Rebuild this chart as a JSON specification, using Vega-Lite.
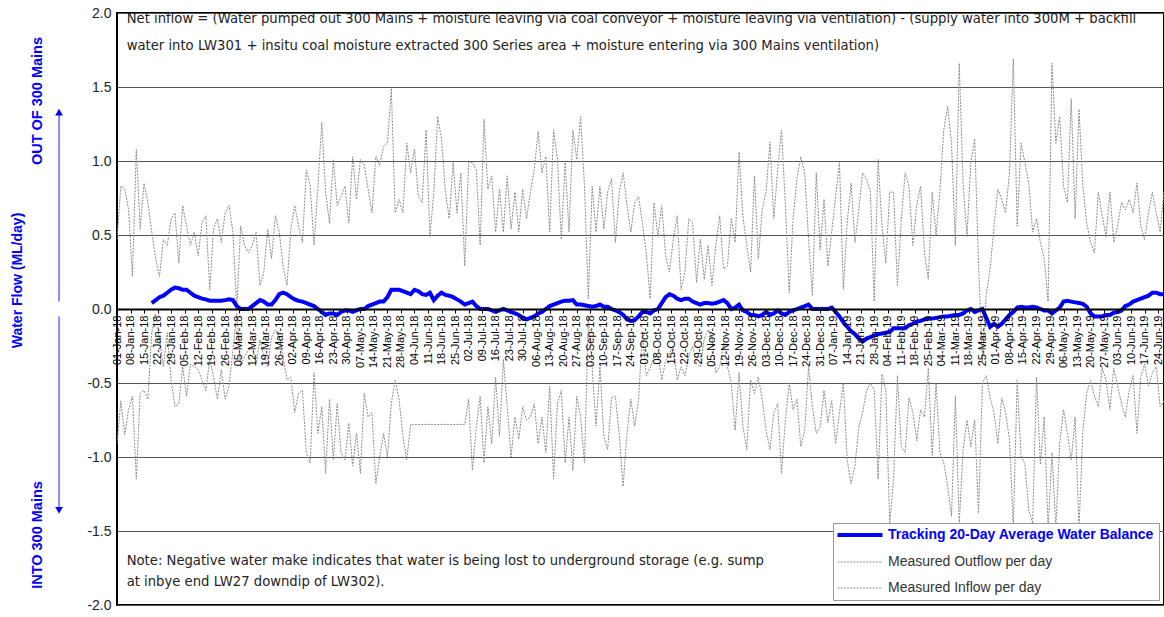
{
"$schema":"https://vega.github.io/schema/vega-lite/v6.json",
"width":1047,"height":592,
"autosize":{"type":"none"},
"padding":{"left":117,"top":13,"right":0,"bottom":12},
"background":"white",
"config":{"view":{"stroke":"black","strokeWidth":2},"font":"Liberation Sans"},
"datasets":{
"flow":[
{"d":"2018-01-01","o":0.47,"i":-0.91},
{"d":"2018-01-03","o":0.83,"i":-0.62},
{"d":"2018-01-05","o":0.81,"i":-0.85},
{"d":"2018-01-07","o":0.67,"i":-0.68},
{"d":"2018-01-09","o":0.22,"i":-0.59},
{"d":"2018-01-11","o":1.08,"i":-1.15},
{"d":"2018-01-13","o":0.54,"i":-0.57},
{"d":"2018-01-15","o":0.85,"i":-0.55},
{"d":"2018-01-17","o":0.72,"i":-0.61},
{"d":"2018-01-19","o":0.52,"i":-0.16,"b":0.04},
{"d":"2018-01-21","o":0.34,"i":-0.03,"b":0.06},
{"d":"2018-01-23","o":0.22,"i":-0.20,"b":0.08},
{"d":"2018-01-25","o":0.47,"i":-0.39,"b":0.09},
{"d":"2018-01-27","o":0.43,"i":-0.16,"b":0.11},
{"d":"2018-01-29","o":0.61,"i":-0.48,"b":0.13},
{"d":"2018-01-31","o":0.65,"i":-0.66,"b":0.145},
{"d":"2018-02-02","o":0.31,"i":-0.64,"b":0.14},
{"d":"2018-02-04","o":0.70,"i":-0.39,"b":0.13},
{"d":"2018-02-06","o":0.56,"i":-0.59,"b":0.13},
{"d":"2018-02-08","o":0.43,"i":-0.37,"b":0.11},
{"d":"2018-02-10","o":0.52,"i":-0.39,"b":0.09},
{"d":"2018-02-12","o":0.36,"i":-0.41,"b":0.08},
{"d":"2018-02-14","o":0.58,"i":-0.48,"b":0.07},
{"d":"2018-02-16","o":0.63,"i":-0.55,"b":0.065},
{"d":"2018-02-18","o":0.13,"i":-0.34,"b":0.056},
{"d":"2018-02-20","o":0.54,"i":-0.46,"b":0.056},
{"d":"2018-02-22","o":0.61,"i":-0.61,"b":0.056},
{"d":"2018-02-24","o":0.45,"i":-0.41,"b":0.056},
{"d":"2018-02-26","o":0.65,"i":-0.61,"b":0.06},
{"d":"2018-02-28","o":0.70,"i":-0.52,"b":0.065},
{"d":"2018-03-02","o":0.52,"i":-0.28,"b":0.06},
{"d":"2018-03-04","o":0.0,"i":-0.03,"b":0.02},
{"d":"2018-03-06","o":0.56,"i":-0.39,"b":0.0},
{"d":"2018-03-08","o":0.43,"i":-0.32,"b":0.0},
{"d":"2018-03-10","o":0.38,"i":-0.28,"b":0.0},
{"d":"2018-03-12","o":0.43,"i":-0.25,"b":0.02},
{"d":"2018-03-14","o":0.52,"i":-0.37,"b":0.04},
{"d":"2018-03-16","o":0.16,"i":-0.21,"b":0.06},
{"d":"2018-03-18","o":0.25,"i":-0.32,"b":0.05},
{"d":"2018-03-20","o":0.54,"i":-0.39,"b":0.03},
{"d":"2018-03-22","o":0.34,"i":-0.19,"b":0.03},
{"d":"2018-03-24","o":0.63,"i":-0.14,"b":0.06},
{"d":"2018-03-26","o":0.52,"i":-0.19,"b":0.10},
{"d":"2018-03-28","o":0.29,"i":-0.32,"b":0.11},
{"d":"2018-03-30","o":0.16,"i":-0.48,"b":0.10},
{"d":"2018-04-01","o":0.54,"i":-0.46,"b":0.08},
{"d":"2018-04-03","o":0.70,"i":-0.70,"b":0.065},
{"d":"2018-04-05","o":0.56,"i":-0.57,"b":0.055},
{"d":"2018-04-07","o":0.45,"i":-0.55,"b":0.05},
{"d":"2018-04-09","o":0.94,"i":-0.97,"b":0.04},
{"d":"2018-04-11","o":0.83,"i":-1.04,"b":0.03},
{"d":"2018-04-13","o":0.43,"i":-0.43,"b":0.02},
{"d":"2018-04-15","o":0.83,"i":-0.84,"b":0.0},
{"d":"2018-04-17","o":1.26,"i":-0.66,"b":-0.02},
{"d":"2018-04-19","o":0.79,"i":-1.11,"b":-0.04},
{"d":"2018-04-21","o":0.58,"i":-0.61,"b":-0.03},
{"d":"2018-04-23","o":1.01,"i":-1.02,"b":-0.03},
{"d":"2018-04-25","o":0.70,"i":-0.64,"b":-0.04},
{"d":"2018-04-27","o":0.76,"i":-0.97,"b":-0.02},
{"d":"2018-04-29","o":0.83,"i":-1.02,"b":-0.01},
{"d":"2018-05-01","o":0.58,"i":-0.77,"b":-0.01},
{"d":"2018-05-03","o":1.03,"i":-1.06,"b":-0.02},
{"d":"2018-05-05","o":0.74,"i":-0.84,"b":-0.01},
{"d":"2018-05-07","o":1.01,"i":-1.11,"b":0.0},
{"d":"2018-05-09","o":0.97,"i":-0.57,"b":0.0},
{"d":"2018-05-11","o":0.81,"i":-0.73,"b":0.02},
{"d":"2018-05-13","o":0.65,"i":-0.70,"b":0.03},
{"d":"2018-05-15","o":1.03,"i":-1.18,"b":0.04},
{"d":"2018-05-17","o":0.97,"i":-1.00,"b":0.05},
{"d":"2018-05-19","o":1.10,"i":-0.84,"b":0.05},
{"d":"2018-05-21","o":1.12,"i":-1.00,"b":0.08},
{"d":"2018-05-23","o":1.49,"i":-0.64,"b":0.13},
{"d":"2018-05-25","o":0.65,"i":-0.48,"b":0.13},
{"d":"2018-05-27","o":0.74,"i":-0.61,"b":0.13},
{"d":"2018-05-29","o":0.65,"i":-0.86,"b":0.12},
{"d":"2018-05-31","o":1.12,"i":-1.02,"b":0.11},
{"d":"2018-06-02","o":0.92,"i":-0.78,"b":0.10},
{"d":"2018-06-04","o":1.08,"b":0.13},
{"d":"2018-06-06","o":0.76,"b":0.12},
{"d":"2018-06-08","o":0.72,"b":0.10},
{"d":"2018-06-10","o":1.21,"b":0.095},
{"d":"2018-06-12","o":0.49,"b":0.11},
{"d":"2018-06-14","o":0.79,"b":0.06},
{"d":"2018-06-16","o":1.30,"b":0.09},
{"d":"2018-06-18","o":1.15,"b":0.11},
{"d":"2018-06-20","o":0.79,"b":0.095},
{"d":"2018-06-22","o":0.61,"b":0.09},
{"d":"2018-06-24","o":0.99,"b":0.08},
{"d":"2018-06-26","o":0.65,"b":0.065},
{"d":"2018-06-28","o":0.92,"b":0.05},
{"d":"2018-06-30","o":0.29,"i":-0.78,"b":0.03},
{"d":"2018-07-02","o":0.99,"i":-0.61,"b":0.04},
{"d":"2018-07-04","o":0.99,"i":-1.09,"b":0.05},
{"d":"2018-07-06","o":0.94,"i":-0.80,"b":0.02},
{"d":"2018-07-08","o":0.43,"i":-0.59,"b":0.0},
{"d":"2018-07-10","o":1.28,"i":-1.04,"b":0.0},
{"d":"2018-07-12","o":0.81,"i":-0.66,"b":0.0},
{"d":"2018-07-14","o":0.90,"i":-0.91,"b":-0.01},
{"d":"2018-07-16","o":0.52,"i":-0.46,"b":-0.02},
{"d":"2018-07-18","o":0.81,"i":-0.86,"b":-0.01},
{"d":"2018-07-20","o":0.52,"i":-0.34,"b":0.0},
{"d":"2018-07-22","o":0.90,"i":-0.66,"b":-0.01},
{"d":"2018-07-24","o":0.54,"i":-1.00,"b":-0.02},
{"d":"2018-07-26","o":0.79,"i":-0.73,"b":-0.03},
{"d":"2018-07-28","o":0.52,"i":-0.88,"b":-0.04},
{"d":"2018-07-30","o":0.81,"i":-0.66,"b":-0.06},
{"d":"2018-08-01","o":0.61,"i":-0.75,"b":-0.07},
{"d":"2018-08-03","o":0.79,"i":-0.73,"b":-0.06},
{"d":"2018-08-05","o":0.94,"i":-0.64,"b":-0.05},
{"d":"2018-08-07","o":1.20,"i":-0.91,"b":-0.03},
{"d":"2018-08-09","o":0.92,"i":-0.73,"b":-0.02},
{"d":"2018-08-11","o":1.03,"i":-0.97,"b":0.0},
{"d":"2018-08-13","o":0.52,"i":-0.52,"b":0.02},
{"d":"2018-08-15","o":1.21,"i":-1.15,"b":0.03},
{"d":"2018-08-17","o":1.01,"i":-0.64,"b":0.04},
{"d":"2018-08-19","o":0.47,"i":-0.55,"b":0.05},
{"d":"2018-08-21","o":0.99,"i":-1.04,"b":0.055},
{"d":"2018-08-23","o":0.52,"i":-0.73,"b":0.056},
{"d":"2018-08-25","o":1.21,"i":-1.09,"b":0.06},
{"d":"2018-08-27","o":1.01,"i":-0.59,"b":0.03},
{"d":"2018-08-29","o":1.30,"i":-0.73,"b":0.03},
{"d":"2018-08-31","o":0.83,"i":-1.04,"b":0.025},
{"d":"2018-09-02","o":0.07,"i":-0.05,"b":0.02},
{"d":"2018-09-04","o":0.83,"i":-0.40,"b":0.015},
{"d":"2018-09-06","o":0.52,"i":-0.79,"b":0.02},
{"d":"2018-09-08","o":0.83,"i":-0.39,"b":0.03},
{"d":"2018-09-10","o":0.54,"i":-0.86,"b":0.015},
{"d":"2018-09-12","o":0.79,"i":-0.95,"b":0.015},
{"d":"2018-09-14","o":0.88,"i":-0.60,"b":0.0},
{"d":"2018-09-16","o":0.45,"i":-0.59,"b":-0.01},
{"d":"2018-09-18","o":0.79,"i":-0.85,"b":-0.02},
{"d":"2018-09-20","o":0.92,"i":-1.20,"b":-0.04},
{"d":"2018-09-22","o":0.70,"i":-0.84,"b":-0.07},
{"d":"2018-09-24","o":0.52,"i":-0.61,"b":-0.08},
{"d":"2018-09-26","o":0.72,"i":-0.79,"b":-0.075},
{"d":"2018-09-28","o":0.76,"i":-0.61,"b":-0.05},
{"d":"2018-09-30","o":0.58,"i":-0.16,"b":-0.02},
{"d":"2018-10-02","o":0.38,"i":-0.45,"b":-0.02},
{"d":"2018-10-04","o":0.07,"i":-0.40,"b":-0.03},
{"d":"2018-10-06","o":0.72,"i":-0.32,"b":-0.01},
{"d":"2018-10-08","o":0.49,"i":-0.30,"b":0.0},
{"d":"2018-10-10","o":0.70,"i":-0.48,"b":0.04},
{"d":"2018-10-12","o":0.36,"i":-0.35,"b":0.08},
{"d":"2018-10-14","o":0.25,"i":-0.30,"b":0.10},
{"d":"2018-10-16","o":0.47,"i":-0.25,"b":0.09},
{"d":"2018-10-18","o":0.63,"i":-0.48,"b":0.07},
{"d":"2018-10-20","o":0.13,"i":-0.39,"b":0.06},
{"d":"2018-10-22","o":0.25,"i":-0.45,"b":0.07},
{"d":"2018-10-24","o":0.61,"i":-0.32,"b":0.07},
{"d":"2018-10-26","o":0.58,"i":-0.25,"b":0.05},
{"d":"2018-10-28","o":0.18,"i":-0.37,"b":0.04},
{"d":"2018-10-30","o":0.47,"i":-0.39,"b":0.03},
{"d":"2018-11-01","o":0.20,"i":-0.20,"b":0.04},
{"d":"2018-11-03","o":0.43,"i":-0.14,"b":0.04},
{"d":"2018-11-05","o":0.16,"i":-0.19,"b":0.035},
{"d":"2018-11-07","o":0.43,"i":-0.43,"b":0.04},
{"d":"2018-11-09","o":0.63,"i":-0.39,"b":0.05},
{"d":"2018-11-11","o":0.27,"i":-0.23,"b":0.06},
{"d":"2018-11-13","o":0.29,"i":-0.39,"b":0.04},
{"d":"2018-11-15","o":0.61,"i":-0.50,"b":0.0},
{"d":"2018-11-17","o":0.45,"i":-0.82,"b":0.01},
{"d":"2018-11-19","o":1.06,"i":-0.43,"b":0.03},
{"d":"2018-11-21","o":0.63,"i":-0.79,"b":-0.01},
{"d":"2018-11-23","o":0.43,"i":-0.95,"b":-0.02},
{"d":"2018-11-25","o":0.25,"i":-0.48,"b":-0.04},
{"d":"2018-11-27","o":0.90,"i":-0.57,"b":-0.04},
{"d":"2018-11-29","o":0.34,"i":-0.46,"b":-0.05},
{"d":"2018-12-01","o":0.67,"i":-0.61,"b":-0.04},
{"d":"2018-12-03","o":0.79,"i":-0.82,"b":-0.02},
{"d":"2018-12-05","o":1.13,"i":-0.95,"b":-0.04},
{"d":"2018-12-07","o":0.61,"i":-0.70,"b":-0.03},
{"d":"2018-12-09","o":0.94,"i":-0.64,"b":-0.01},
{"d":"2018-12-11","o":1.21,"i":-1.11,"b":-0.03},
{"d":"2018-12-13","o":0.70,"i":-0.75,"b":-0.04},
{"d":"2018-12-15","o":0.11,"i":-0.50,"b":-0.02},
{"d":"2018-12-17","o":0.61,"i":-0.68,"b":-0.01},
{"d":"2018-12-19","o":0.88,"i":-0.61,"b":0.0},
{"d":"2018-12-21","o":1.03,"i":-0.93,"b":0.01},
{"d":"2018-12-23","o":0.92,"i":-0.82,"b":0.02},
{"d":"2018-12-25","o":0.47,"i":-0.39,"b":0.03},
{"d":"2018-12-27","o":0.09,"i":-0.66,"b":0.0},
{"d":"2018-12-29","o":0.92,"i":-0.84,"b":0.0},
{"d":"2018-12-31","o":0.40,"i":-0.80,"b":0.0},
{"d":"2019-01-02","o":0.74,"i":-0.55,"b":0.0},
{"d":"2019-01-04","o":0.29,"i":-0.77,"b":0.0},
{"d":"2019-01-06","o":0.52,"i":-0.62,"b":0.01},
{"d":"2019-01-08","o":0.76,"i":-0.91,"b":-0.02},
{"d":"2019-01-10","o":0.99,"i":-0.70,"b":-0.05},
{"d":"2019-01-12","o":0.13,"i":-0.50,"b":-0.09},
{"d":"2019-01-14","o":0.58,"i":-1.02,"b":-0.12},
{"d":"2019-01-16","o":0.85,"i":-1.18,"b":-0.15},
{"d":"2019-01-18","o":0.45,"i":-1.06,"b":-0.17},
{"d":"2019-01-20","o":0.67,"i":-0.80,"b":-0.20},
{"d":"2019-01-22","o":0.92,"i":-0.70,"b":-0.22},
{"d":"2019-01-24","o":0.88,"i":-0.55,"b":-0.20},
{"d":"2019-01-26","o":0.79,"i":-0.50,"b":-0.19},
{"d":"2019-01-28","o":0.05,"i":-0.55,"b":-0.18},
{"d":"2019-01-30","o":1.01,"i":-1.15,"b":-0.17},
{"d":"2019-02-01","o":0.56,"i":-0.44,"b":-0.165},
{"d":"2019-02-03","o":0.31,"i":-0.55,"b":-0.16},
{"d":"2019-02-05","o":0.79,"i":-1.45,"b":-0.155},
{"d":"2019-02-07","o":0.79,"i":-1.15,"b":-0.13},
{"d":"2019-02-09","o":0.16,"i":-0.45,"b":-0.13},
{"d":"2019-02-11","o":0.60,"i":-0.93,"b":-0.13},
{"d":"2019-02-13","o":0.92,"i":-0.97,"b":-0.13},
{"d":"2019-02-15","o":0.83,"i":-0.60,"b":-0.11},
{"d":"2019-02-17","o":0.43,"i":-0.70,"b":-0.10},
{"d":"2019-02-19","o":0.70,"i":-0.89,"b":-0.085},
{"d":"2019-02-21","o":0.83,"i":-0.68,"b":-0.08},
{"d":"2019-02-23","o":0.38,"i":-0.73,"b":-0.07},
{"d":"2019-02-25","o":0.20,"i":-0.40,"b":-0.065},
{"d":"2019-02-27","o":0.79,"i":-0.99,"b":-0.065},
{"d":"2019-03-01","o":0.50,"i":-0.50,"b":-0.06},
{"d":"2019-03-03","o":0.79,"i":-0.97,"b":-0.055},
{"d":"2019-03-05","o":1.21,"i":-1.04,"b":-0.05},
{"d":"2019-03-07","o":1.37,"i":-1.20,"b":-0.05},
{"d":"2019-03-09","o":1.12,"i":-1.40,"b":-0.045},
{"d":"2019-03-11","o":0.43,"i":-0.59,"b":-0.04},
{"d":"2019-03-13","o":1.66,"i":-1.45,"b":-0.04},
{"d":"2019-03-15","o":0.85,"i":-0.95,"b":-0.03},
{"d":"2019-03-17","o":0.49,"i":-0.75,"b":-0.01},
{"d":"2019-03-19","o":0.99,"i":-0.93,"b":0.0},
{"d":"2019-03-21","o":1.15,"i":-0.75,"b":-0.02},
{"d":"2019-03-23","o":0.30,"i":-1.38,"b":-0.01},
{"d":"2019-03-25","o":-0.35,"i":-0.50,"b":0.0},
{"d":"2019-03-27","o":0.10,"i":-0.45,"b":-0.06},
{"d":"2019-03-29","o":0.27,"i":-0.60,"b":-0.12},
{"d":"2019-03-31","o":0.56,"i":-0.70,"b":-0.10},
{"d":"2019-04-02","o":0.81,"i":-0.91,"b":-0.12},
{"d":"2019-04-04","o":0.74,"i":-0.60,"b":-0.10},
{"d":"2019-04-06","o":0.65,"i":-0.70,"b":-0.07},
{"d":"2019-04-08","o":0.92,"i":-0.88,"b":-0.04},
{"d":"2019-04-10","o":1.69,"i":-1.48,"b":-0.02},
{"d":"2019-04-12","o":0.56,"i":-0.48,"b":0.01},
{"d":"2019-04-14","o":1.12,"i":-0.99,"b":0.015},
{"d":"2019-04-16","o":0.99,"i":-1.05,"b":0.01},
{"d":"2019-04-18","o":0.85,"i":-1.36,"b":0.01},
{"d":"2019-04-20","o":0.52,"i":-1.45,"b":0.015},
{"d":"2019-04-22","o":0.61,"i":-0.46,"b":0.01},
{"d":"2019-04-24","o":0.45,"i":-1.05,"b":0.0},
{"d":"2019-04-26","o":0.34,"i":-0.73,"b":-0.01},
{"d":"2019-04-28","o":0.05,"i":-1.48,"b":-0.01},
{"d":"2019-04-30","o":1.66,"i":-0.97,"b":-0.03},
{"d":"2019-05-02","o":1.12,"i":-1.48,"b":-0.01},
{"d":"2019-05-04","o":1.30,"i":-0.91,"b":0.01},
{"d":"2019-05-06","o":0.83,"i":-0.68,"b":0.05},
{"d":"2019-05-08","o":0.72,"i":-0.84,"b":0.055},
{"d":"2019-05-10","o":1.42,"i":-1.02,"b":0.05},
{"d":"2019-05-12","o":0.61,"i":-0.73,"b":0.045},
{"d":"2019-05-14","o":1.35,"i":-1.48,"b":0.04},
{"d":"2019-05-16","o":0.83,"i":-0.82,"b":0.035},
{"d":"2019-05-18","o":0.58,"i":-0.57,"b":0.015},
{"d":"2019-05-20","o":0.45,"i":-0.48,"b":-0.03},
{"d":"2019-05-22","o":0.38,"i":-0.59,"b":-0.05},
{"d":"2019-05-24","o":0.79,"i":-0.66,"b":-0.05},
{"d":"2019-05-26","o":0.63,"i":-0.40,"b":-0.05},
{"d":"2019-05-28","o":0.49,"i":-0.48,"b":-0.04},
{"d":"2019-05-30","o":0.79,"i":-0.68,"b":-0.04},
{"d":"2019-06-01","o":0.45,"i":-0.40,"b":-0.025},
{"d":"2019-06-03","o":0.56,"i":-0.52,"b":-0.02},
{"d":"2019-06-05","o":0.72,"i":-0.64,"b":-0.01},
{"d":"2019-06-07","o":0.67,"i":-0.73,"b":0.02},
{"d":"2019-06-09","o":0.74,"i":-0.55,"b":0.03},
{"d":"2019-06-11","o":0.65,"i":-0.45,"b":0.05},
{"d":"2019-06-13","o":0.85,"i":-0.84,"b":0.06},
{"d":"2019-06-15","o":0.56,"i":-0.46,"b":0.07},
{"d":"2019-06-17","o":0.47,"i":-0.37,"b":0.08},
{"d":"2019-06-19","o":0.65,"i":-0.52,"b":0.09},
{"d":"2019-06-21","o":0.79,"i":-0.43,"b":0.11},
{"d":"2019-06-23","o":0.65,"i":-0.39,"b":0.11},
{"d":"2019-06-25","o":0.52,"i":-0.66,"b":0.10},
{"d":"2019-06-27","o":0.79,"i":-0.62,"b":0.10},
{"d":"2019-06-29","o":0.65,"i":-0.70,"b":0.10}
],
"notes":[
{"d":"2018-01-06","v":1.96,"t":"Net inflow = (Water pumped out 300 Mains + moisture leaving via coal conveyor + moisture leaving via ventilation) - (supply water into 300M + backfill"},
{"d":"2018-01-06","v":1.78,"t":"water into LW301 + insitu coal moisture extracted 300 Series area + moisture entering via 300 Mains ventilation)"},
{"d":"2018-01-06","v":-1.70,"t":"Note: Negative water make indicates that water is being lost to underground storage (e.g. sump"},
{"d":"2018-01-06","v":-1.845,"t":"at inbye end LW27 downdip of LW302)."}
],
"side":[
{"d":"2017-11-21","v":1.405,"t":"OUT OF 300 Mains"},
{"d":"2017-11-21","v":-1.527,"t":"INTO 300 Mains"}
],
"arrows":[
{"d":"2017-12-02","v":0.05,"v2":1.32},
{"d":"2017-12-02","v":-0.05,"v2":-1.35}
],
"heads":[
{"d":"2017-12-02","v":1.33,"dir":"up"},
{"d":"2017-12-02","v":-1.36,"dir":"down"}
]
},
"encoding":{
"x":{"field":"d","type":"temporal",
"scale":{"type":"utc","domain":[1514764800000,1561593600000]},
"axis":{"values":[1514764800000,1515369600000,1515974400000,1516579200000,1517184000000,1517788800000,1518393600000,1518998400000,1519603200000,1520208000000,1520812800000,1521417600000,1522022400000,1522627200000,1523232000000,1523836800000,1524441600000,1525046400000,1525651200000,1526256000000,1526860800000,1527465600000,1528070400000,1528675200000,1529280000000,1529884800000,1530489600000,1531094400000,1531699200000,1532304000000,1532908800000,1533513600000,1534118400000,1534723200000,1535328000000,1535932800000,1536537600000,1537142400000,1537747200000,1538352000000,1538956800000,1539561600000,1540166400000,1540771200000,1541376000000,1541980800000,1542585600000,1543190400000,1543795200000,1544400000000,1545004800000,1545609600000,1546214400000,1546819200000,1547424000000,1548028800000,1548633600000,1549238400000,1549843200000,1550448000000,1551052800000,1551657600000,1552262400000,1552867200000,1553472000000,1554076800000,1554681600000,1555286400000,1555891200000,1556496000000,1557100800000,1557705600000,1558310400000,1558915200000,1559520000000,1560124800000,1560729600000,1561334400000],
"labelExpr":"utcFormat(datum.value,'%d-%b-%y')",
"labelAngle":-90,"labelFontSize":11,"labelColor":"#000","labelPadding":2,"labelOverlap":false,"labelBound":false,"labelFlush":false,
"tickSize":4,"tickColor":"#000","tickWidth":1,"domainColor":"#000","domainWidth":2,"grid":false,"title":null,"offset":-296,"zindex":1}}
},
"layer":[
{"data":{"name":"flow"},"transform":[{"filter":"isValid(datum.o)"}],
"mark":{"type":"line","clip":true,"strokeWidth":1,"strokeDash":[2,1.2],"invalid":"filter"},
"encoding":{
"y":{"field":"o","type":"quantitative","scale":{"domain":[-2,2],"nice":false,"zero":false},
"axis":{"values":[-2,-1.5,-1,-0.5,0,0.5,1,1.5,2],"labelExpr":"(datum.value<0?'-':'')+format(abs(datum.value),'.1f')","labelFontSize":14,"labelColor":"#222","labelPadding":6,"ticks":false,"domain":false,"grid":true,"gridColor":"#555","gridWidth":1,
"title":"Water Flow (ML/day)","titleColor":"#0000ff","titleFontSize":14,"titleFontWeight":"bold","titleX":-100,"titleY":267,"titleAngle":-90,"titleAlign":"center","titleBaseline":"middle"}},
"color":{"datum":"Measured Outflow per day","type":"nominal",
"scale":{"domain":["Tracking 20-Day Average Water Balance","Measured Outflow per day","Measured Inflow per day"],"range":["#0000ff","#8c8c8c","#8c8c8c"]},
"legend":{"orient":"bottom-right","offset":5,"title":null,"symbolType":"M-1,0H5","symbolSize":225,"rowPadding":12,"padding":5,"fillColor":"white","strokeColor":"#999","labelFontSize":14,"labelColor":"#333","labelFont":"Liberation Sans","labelOffset":36,"labelLimit":400,
"encode":{"symbols":{"update":{"strokeWidth":{"signal":"datum.value==='Tracking 20-Day Average Water Balance'?4:1"},"strokeDash":{"signal":"datum.value==='Tracking 20-Day Average Water Balance'?[1,0]:[2,1.2]"}}},
"labels":{"update":{"fill":{"signal":"datum.value==='Tracking 20-Day Average Water Balance'?'#0000ff':'#333333'"},"fontWeight":{"signal":"datum.value==='Tracking 20-Day Average Water Balance'?'bold':'normal'"}}}}}}
}},
{"data":{"name":"flow"},"transform":[{"filter":"isValid(datum.i)"}],
"mark":{"type":"line","clip":true,"strokeWidth":1,"strokeDash":[2,1.2],"invalid":"filter"},
"encoding":{"y":{"field":"i","type":"quantitative"},"color":{"datum":"Measured Inflow per day","type":"nominal"}}},
{"data":{"name":"flow"},"transform":[{"filter":"isValid(datum.b)"}],
"mark":{"type":"line","clip":true,"strokeWidth":4,"invalid":"filter"},
"encoding":{"y":{"field":"b","type":"quantitative"},"color":{"datum":"Tracking 20-Day Average Water Balance","type":"nominal"}}},
{"data":{"name":"notes"},
"mark":{"type":"text","align":"left","baseline":"middle","font":"DejaVu Sans","fontSize":13.2,"color":"#222"},
"encoding":{"y":{"field":"v","type":"quantitative"},"text":{"field":"t"}}},
{"data":{"name":"side"},
"mark":{"type":"text","align":"center","baseline":"middle","angle":270,"font":"Liberation Sans","fontWeight":"bold","fontSize":14.5,"color":"#0000ff"},
"encoding":{"y":{"field":"v","type":"quantitative"},"text":{"field":"t"}}},
{"data":{"name":"arrows"},
"mark":{"type":"rule","color":"#3344ff","strokeWidth":1.2},
"encoding":{"y":{"field":"v","type":"quantitative"},"y2":{"field":"v2"}}},
{"data":{"name":"heads"},
"mark":{"type":"point","filled":true,"color":"#0000ff","size":60,"opacity":1},
"encoding":{"y":{"field":"v","type":"quantitative"},"shape":{"field":"dir","type":"nominal","scale":{"domain":["up","down"],"range":["triangle-up","triangle-down"]},"legend":null}}}
]
}
